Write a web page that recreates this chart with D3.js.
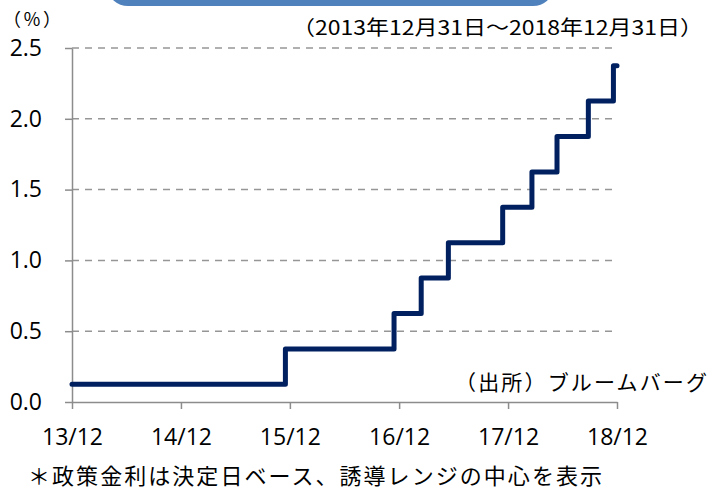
<!DOCTYPE html>
<html>
<head>
<meta charset="utf-8">
<script src="https://cdn.jsdelivr.net/npm/d3@7"></script>
<style>
  body { margin: 0; background: #fff; }
  .axis path, .axis line { stroke: #8c8c8c; stroke-width: 1.5; }
  .axis text { font-family: "Open Sans", sans-serif; font-size: 23px; fill: #000; }
  .jp { font-family: "Noto Sans CJK JP", sans-serif; fill: #000; }
</style>
</head>
<body>
<svg id="chart" width="709" height="490"></svg>
<script>
// policy rate steps (decision dates), midpoint of target range
const stepDates = ["2013-12-31", "2015-12-16", "2016-12-14", "2017-03-15", "2017-06-14",
  "2017-12-13", "2018-03-21", "2018-06-13", "2018-09-26", "2018-12-19", "2018-12-31"];
const rates = [0.125, 0.375, 0.625, 0.875, 1.125, 1.375, 1.625, 1.875, 2.125, 2.375, 2.375];

const tickDates = ["2013-12-31", "2014-12-31", "2015-12-31", "2016-12-31", "2017-12-31", "2018-12-31"];
const tickLabels = ["13/12", "14/12", "15/12", "16/12", "17/12", "18/12"];
const yTicks = [0, 0.5, 1.0, 1.5, 2.0, 2.5];

const parse = d3.timeParse("%Y-%m-%d");
const data = stepDates.map((d, i) => ({ date: parse(d), rate: rates[i] }));

const svg = d3.select("#chart");

const x = d3.scaleTime()
  .domain([parse(tickDates[0]), parse(tickDates[tickDates.length - 1])])
  .range([72, 617]);
const y = d3.scaleLinear().domain([0, 2.5]).range([402, 48]);

// header box (cut off at top)
svg.append("rect")
  .attr("x", 108).attr("y", -30)
  .attr("width", 445).attr("height", 36)
  .attr("rx", 20)
  .attr("fill", "#4f81bd");

// grid
svg.append("g")
  .selectAll("line")
  .data(yTicks.filter(d => d > 0))
  .join("line")
  .attr("x1", 72).attr("x2", 617)
  .attr("y1", d => y(d)).attr("y2", d => y(d))
  .attr("stroke", "#969696")
  .attr("stroke-width", 1.5)
  .attr("stroke-dasharray", "7,6");

// axes
svg.append("g")
  .attr("class", "axis")
  .attr("transform", "translate(72,0)")
  .call(d3.axisLeft(y).tickValues(yTicks).tickFormat(d3.format(".1f"))
    .tickSize(7).tickSizeOuter(0).tickPadding(23));

const xTickParsed = tickDates.map(parse);
svg.append("g")
  .attr("class", "axis")
  .attr("transform", "translate(0,402)")
  .call(d3.axisBottom(x).tickValues(xTickParsed)
    .tickFormat((d, i) => tickLabels[i])
    .tickSize(7).tickSizeOuter(0).tickPadding(20));

// step line
const line = d3.line()
  .x(d => x(d.date))
  .y(d => y(d.rate))
  .curve(d3.curveStepAfter);

svg.append("path")
  .datum(data)
  .attr("d", line)
  .attr("fill", "none")
  .attr("stroke", "#002060")
  .attr("stroke-width", 5)
  .attr("stroke-linejoin", "round")
  .attr("stroke-linecap", "round");

// texts
svg.append("text").attr("class", "jp")
  .attr("x", 3).attr("y", 20).attr("dy", "0.35em")
  .attr("font-size", 18)
  .attr("textLength", 58).attr("lengthAdjust", "spacing")
  .text("（％）");

svg.append("text").attr("class", "jp")
  .attr("x", 292).attr("y", 28).attr("dy", "0.35em")
  .attr("font-size", 20)
  .attr("textLength", 411).attr("lengthAdjust", "spacingAndGlyphs")
  .text("（2013年12月31日～2018年12月31日）");

svg.append("text").attr("class", "jp")
  .attr("x", 455).attr("y", 383).attr("dy", "0.35em")
  .attr("font-size", 21)
  .attr("textLength", 252).attr("lengthAdjust", "spacing")
  .text("（出所）ブルームバーグ");

svg.append("text").attr("class", "jp")
  .attr("x", 28).attr("y", 476).attr("dy", "0.35em")
  .attr("font-size", 22)
  .attr("textLength", 574).attr("lengthAdjust", "spacing")
  .text("＊政策金利は決定日ベース、誘導レンジの中心を表示");
</script>
</body>
</html>
